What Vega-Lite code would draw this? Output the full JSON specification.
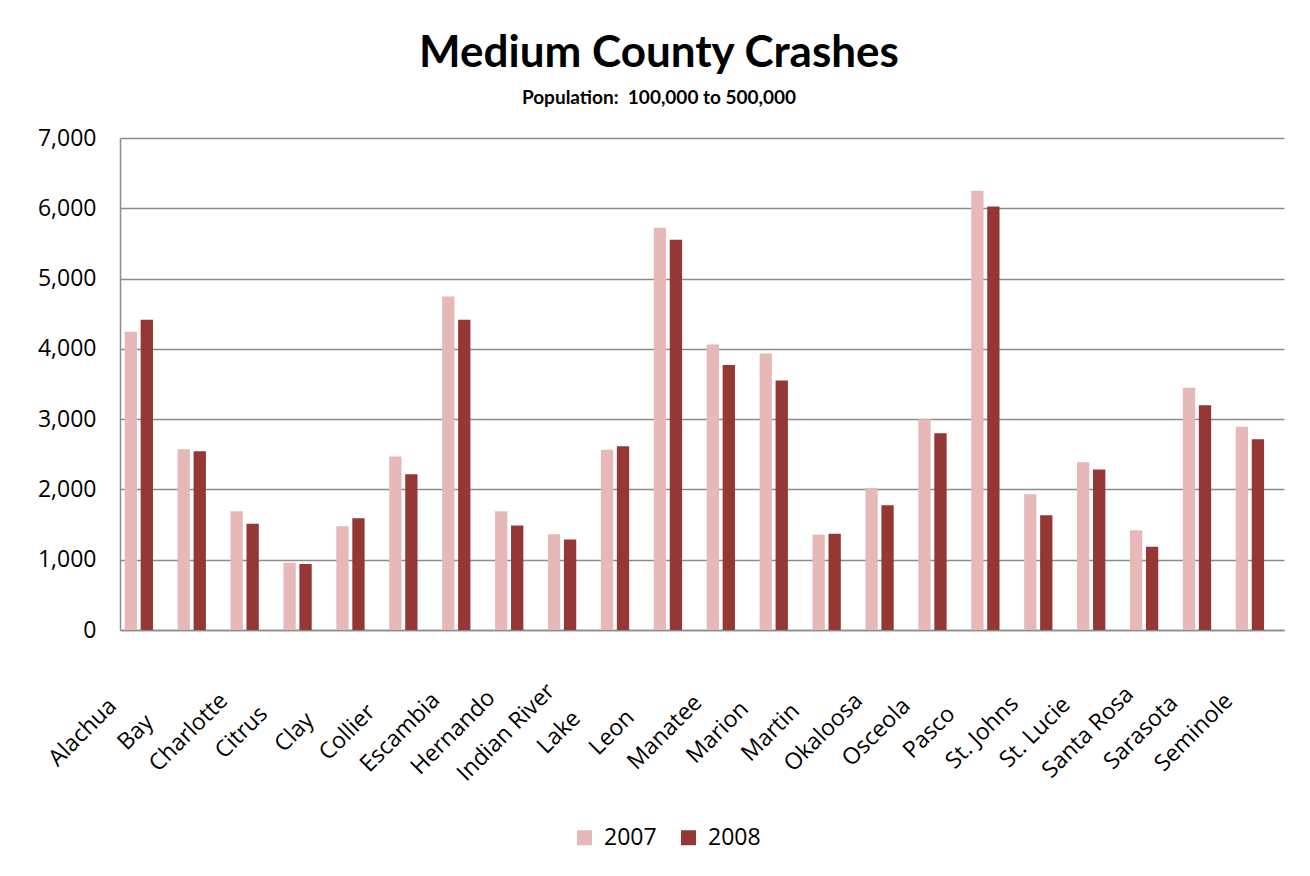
{
  "$schema": "https://vega.github.io/schema/vega-lite/v6.json",
  "autosize": "none",
  "width": 1164,
  "height": 492,
  "padding": {"left": 120, "top": 138, "right": 26, "bottom": 246},
  "background": "white",
  "title": {
    "text": "Medium County Crashes",
    "subtitle": "Population:\u00a0 100,000 to 500,000",
    "font": "Lato",
    "fontSize": 44,
    "fontWeight": "bold",
    "color": "black",
    "subtitleFont": "Lato",
    "subtitleFontSize": 19,
    "subtitleFontWeight": "bold",
    "subtitleColor": "black",
    "subtitlePadding": 13,
    "anchor": "middle",
    "dx": -43,
    "offset": 19
  },
  "data": {
    "values": [
      {"county": "Alachua", "year": "2007", "crashes": 4243},
      {"county": "Alachua", "year": "2008", "crashes": 4413},
      {"county": "Bay", "year": "2007", "crashes": 2571},
      {"county": "Bay", "year": "2008", "crashes": 2543},
      {"county": "Charlotte", "year": "2007", "crashes": 1690},
      {"county": "Charlotte", "year": "2008", "crashes": 1510},
      {"county": "Citrus", "year": "2007", "crashes": 956},
      {"county": "Citrus", "year": "2008", "crashes": 938},
      {"county": "Clay", "year": "2007", "crashes": 1477},
      {"county": "Clay", "year": "2008", "crashes": 1591},
      {"county": "Collier", "year": "2007", "crashes": 2467},
      {"county": "Collier", "year": "2008", "crashes": 2216},
      {"county": "Escambia", "year": "2007", "crashes": 4744},
      {"county": "Escambia", "year": "2008", "crashes": 4413},
      {"county": "Hernando", "year": "2007", "crashes": 1690},
      {"county": "Hernando", "year": "2008", "crashes": 1487},
      {"county": "Indian River", "year": "2007", "crashes": 1364},
      {"county": "Indian River", "year": "2008", "crashes": 1288},
      {"county": "Lake", "year": "2007", "crashes": 2566},
      {"county": "Lake", "year": "2008", "crashes": 2614},
      {"county": "Leon", "year": "2007", "crashes": 5724},
      {"county": "Leon", "year": "2008", "crashes": 5554},
      {"county": "Manatee", "year": "2007", "crashes": 4063},
      {"county": "Manatee", "year": "2008", "crashes": 3769},
      {"county": "Marion", "year": "2007", "crashes": 3935},
      {"county": "Marion", "year": "2008", "crashes": 3551},
      {"county": "Martin", "year": "2007", "crashes": 1359},
      {"county": "Martin", "year": "2008", "crashes": 1368},
      {"county": "Okaloosa", "year": "2007", "crashes": 2022},
      {"county": "Okaloosa", "year": "2008", "crashes": 1776},
      {"county": "Osceola", "year": "2007", "crashes": 2997},
      {"county": "Osceola", "year": "2008", "crashes": 2798},
      {"county": "Pasco", "year": "2007", "crashes": 6250},
      {"county": "Pasco", "year": "2008", "crashes": 6027},
      {"county": "St. Johns", "year": "2007", "crashes": 1932},
      {"county": "St. Johns", "year": "2008", "crashes": 1634},
      {"county": "St. Lucie", "year": "2007", "crashes": 2386},
      {"county": "St. Lucie", "year": "2008", "crashes": 2282},
      {"county": "Santa Rosa", "year": "2007", "crashes": 1420},
      {"county": "Santa Rosa", "year": "2008", "crashes": 1184},
      {"county": "Sarasota", "year": "2007", "crashes": 3447},
      {"county": "Sarasota", "year": "2008", "crashes": 3196},
      {"county": "Seminole", "year": "2007", "crashes": 2893},
      {"county": "Seminole", "year": "2008", "crashes": 2713}
    ]
  },
  "mark": {"type": "bar"},
  "encoding": {
    "x": {
      "field": "county",
      "type": "nominal",
      "sort": null,
      "title": null,
      "scale": {"paddingInner": 0.465, "paddingOuter": 0.2325, "align": 0.19},
      "axis": {
        "labelAngle": -45,
        "labelAlign": "center",
        "labelBaseline": "middle",
        "labelPadding": 102,
        "labelOffset": -56,
        "labelFont": "Open Sans",
        "labelFontSize": 23,
        "labelColor": "black",
        "ticks": false,
        "tickSize": 0,
        "domainColor": "#8c8c8c",
        "domainWidth": 1.5,
        "grid": false,
        "labelOverlap": false
      }
    },
    "xOffset": {
      "field": "year",
      "type": "nominal",
      "scale": {"paddingInner": 0.23, "paddingOuter": 0}
    },
    "y": {
      "field": "crashes",
      "type": "quantitative",
      "title": null,
      "scale": {"domain": [0, 7000], "nice": false},
      "axis": {
        "values": [0, 1000, 2000, 3000, 4000, 5000, 6000, 7000],
        "format": ",d",
        "labelFont": "Open Sans",
        "labelFontSize": 23,
        "labelColor": "black",
        "labelPadding": 24,
        "ticks": false,
        "tickSize": 0,
        "domainColor": "#8c8c8c",
        "domainWidth": 1.5,
        "gridColor": "#8c8c8c",
        "gridWidth": 1.5
      }
    },
    "color": {
      "field": "year",
      "type": "nominal",
      "scale": {"domain": ["2007", "2008"], "range": ["#E6B9B8", "#953735"]},
      "legend": {
        "title": null,
        "orient": "none",
        "legendX": 453,
        "legendY": 688,
        "direction": "horizontal",
        "symbolType": "square",
        "symbolSize": 225,
        "symbolStrokeWidth": 0,
        "labelFont": "Open Sans",
        "labelFontSize": 23,
        "labelColor": "black",
        "labelOffset": 8,
        "columnPadding": 20,
        "padding": 0
      }
    }
  },
  "config": {
    "view": {"stroke": null}
  }
}
